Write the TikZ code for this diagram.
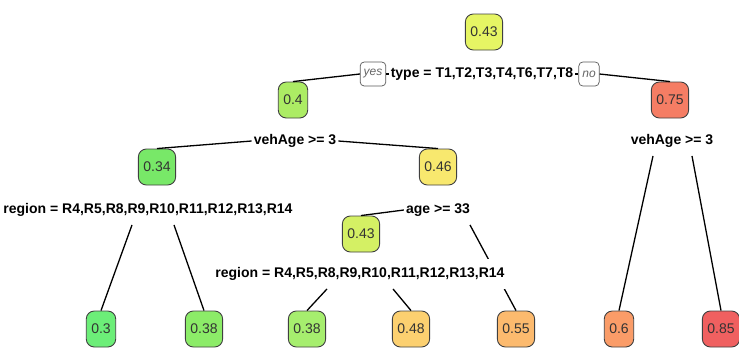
\documentclass[tikz,border=0pt]{standalone}
\usepackage{fontspec}
\setmainfont{Liberation Sans}

\definecolor{c30}{RGB}{108,238,120}
\definecolor{c34}{RGB}{120,232,104}
\definecolor{c38a}{RGB}{140,236,104}
\definecolor{c38b}{RGB}{166,238,110}
\definecolor{c40}{RGB}{172,236,100}
\definecolor{c43a}{RGB}{230,245,100}
\definecolor{c43b}{RGB}{212,240,100}
\definecolor{c46}{RGB}{248,232,110}
\definecolor{c48}{RGB}{252,208,112}
\definecolor{c55}{RGB}{252,186,110}
\definecolor{c60}{RGB}{250,156,104}
\definecolor{c75}{RGB}{245,125,100}
\definecolor{c85}{RGB}{240,96,96}

\begin{document}
\begin{tikzpicture}[x=1pt,y=-1pt,
    nbox/.style={draw=black!75, line width=0.9pt, rounded corners=8pt, minimum height=36pt,
      inner xsep=5pt, text=black!80, font=\fontsize{14}{16}\selectfont},
    split/.style={fill=white, inner xsep=2pt, inner ysep=8pt, text height=10.5pt,
      text depth=3pt, font=\fontsize{14}{16}\selectfont\bfseries},
    yn/.style={draw=black!65, line width=0.7pt, fill=white, rounded corners=4pt, minimum height=24pt,
      inner xsep=3.5pt, text=black!60, font=\fontsize{12}{14}\selectfont\itshape},
    br/.style={line width=1.3pt}]
  \useasboundingbox (0,0) rectangle (739,349);

  \node[nbox, fill=c43a] (root) at (484,32) {0.43};
  \node[split] (s1) at (482,74) {type = T1,T2,T3,T4,T6,T7,T8};
  \node[yn] (yes) at (373,74) {yes};
  \node[yn] (no) at (589,74) {no};

  \node[nbox, fill=c40] (n40) at (293,100) {0.4};
  \node[nbox, fill=c75] (n75) at (670,100) {0.75};
  \node[split] (s2) at (295,141) {vehAge >= 3};
  \node[split] (s6) at (672,141) {vehAge >= 3};

  \node[nbox, fill=c34] (n34) at (157,167) {0.34};
  \node[nbox, fill=c46] (n46) at (438,167) {0.46};
  \node[split] (s3) at (148,210) {region = R4,R5,R8,R9,R10,R11,R12,R13,R14};
  \node[split] (s4) at (438,210) {age >= 33};
  \node[nbox, fill=c43b] (n43) at (361,234) {0.43};

  \node[nbox, fill=c30] (l30) at (101,329) {0.3};
  \node[nbox, fill=c38a] (l38a) at (204,329) {0.38};
  \node[nbox, fill=c38b] (l38b) at (307,329) {0.38};
  \node[nbox, fill=c48] (l48) at (411,329) {0.48};
  \node[nbox, fill=c55] (l55) at (516,329) {0.55};
  \node[nbox, fill=c60] (l60) at (619,329) {0.6};
  \node[nbox, fill=c85] (l85) at (721,329) {0.85};

  \draw[br] (n40.north) -- (yes.west);
  \draw[br] (yes.east) -- (s1.west);
  \draw[br] (s1.east) -- (no.west);
  \draw[br] (no.east) -- (n75.north);

  \draw[br] (n34.north) -- (s2.west);
  \draw[br] (s2.east) -- (n46.north);
  \draw[br] (n43.north) -- (s4.west);
  \draw[br] ([xshift=32pt]s4.south) -- (l55.north);

  \draw[br] ([xshift=-16pt]s3.south) -- (l30.north);
  \draw[br] ([xshift=26pt]s3.south) -- (l38a.north);
  \draw[br] ([xshift=-19pt]s6.south) -- (l60.north);
  \draw[br] ([xshift=20pt]s6.south) -- (l85.north);

  \node[split] (s5) at (360,274) {region = R4,R5,R8,R9,R10,R11,R12,R13,R14};
  \draw[br] ([xshift=-33pt]s5.south) -- (l38b.north);
  \draw[br] ([xshift=33pt]s5.south) -- (l48.north);
\end{tikzpicture}
\end{document}
